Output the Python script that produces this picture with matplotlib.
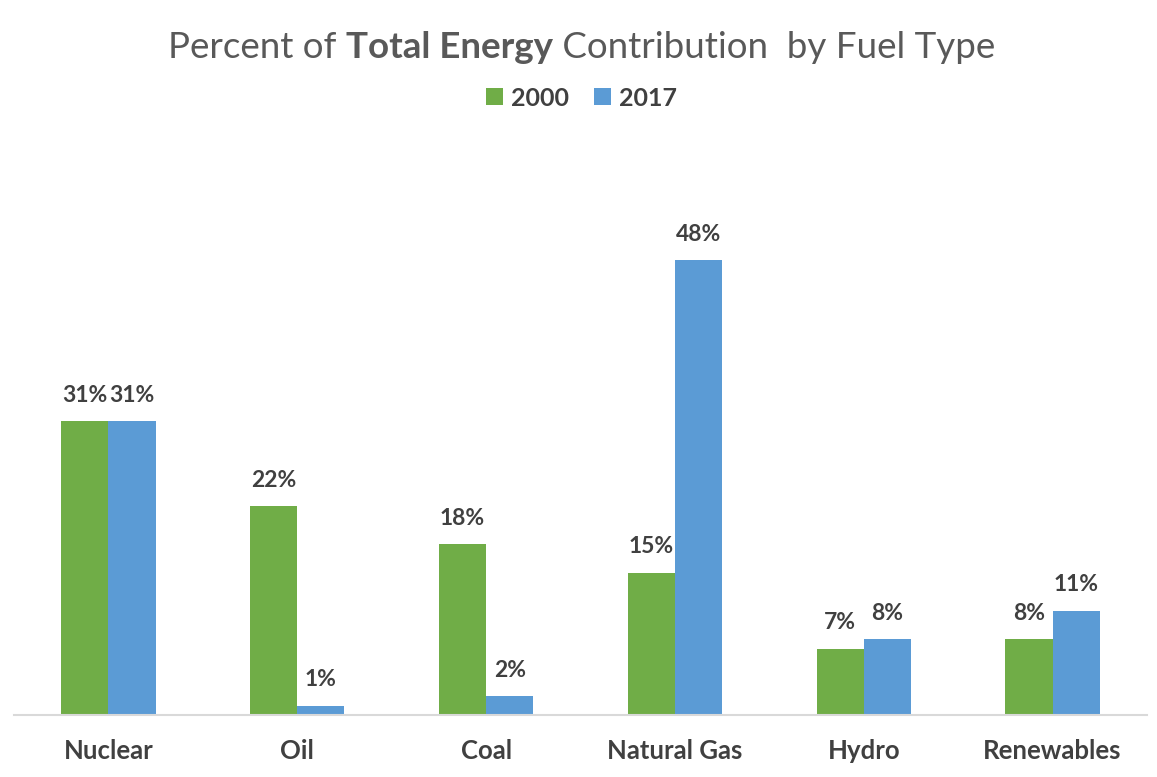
import matplotlib
matplotlib.use("Agg")
import matplotlib.pyplot as plt
import numpy as np
from matplotlib.offsetbox import TextArea, HPacker, AnchoredOffsetbox

categories = ["Nuclear", "Oil", "Coal", "Natural Gas", "Hydro", "Renewables"]
years = ["2000", "2017"]
values_2000 = [31, 22, 18, 15, 7, 8]
values_2017 = [31, 1, 2, 48, 8, 11]

green = "#70AD47"
blue = "#5B9BD5"
FONT = "Lato"

plt.rcParams["font.family"] = [FONT, "DejaVu Sans"]

fig = plt.figure(figsize=(11.57, 7.77), dpi=100)
ax = fig.add_axes([14 / 1157, 1 - 715 / 777, (1147 - 14) / 1157, (715 - 165) / 777])

x = np.arange(len(categories))
w = 0.25
b1 = ax.bar(x - w / 2, values_2000, w, color=green, label=years[0])
b2 = ax.bar(x + w / 2, values_2017, w, color=blue, label=years[1])

for bars, vals in ((b1, values_2000), (b2, values_2017)):
    for rect, v in zip(bars, vals):
        ax.annotate(f"{v}%", (rect.get_x() + rect.get_width() / 2, rect.get_height()),
                    xytext=(0, 11), textcoords="offset points", ha="center", va="bottom",
                    fontsize=16.5, fontweight="bold", color="#404040")

ax.set_xlim(-0.5, len(categories) - 0.5)
ax.set_ylim(0, 58)
ax.set_yticks([])
ax.set_xticks(x)
ax.set_xticklabels(categories, fontsize=18.5, fontweight="bold", color="#404040")
ax.tick_params(axis="x", length=0, pad=17)
for s in ["top", "right", "left"]:
    ax.spines[s].set_visible(False)
ax.spines["bottom"].set_color("#D9D9D9")
ax.spines["bottom"].set_linewidth(1.5)

# Title with mixed weights
tcol = "#595959"
tsize = 26.5
parts = [
    TextArea("Percent of ", textprops=dict(fontsize=tsize, color=tcol, family=FONT)),
    TextArea("Total Energy", textprops=dict(fontsize=tsize, color=tcol, family=FONT, fontweight="bold")),
    TextArea(" Contribution  by Fuel Type", textprops=dict(fontsize=tsize, color=tcol, family=FONT)),
]
box = HPacker(children=parts, align="baseline", pad=0, sep=0)
anch = AnchoredOffsetbox(loc="center", child=box, frameon=False,
                         bbox_to_anchor=(0.503, 1 - 47 / 777), bbox_transform=fig.transFigure, pad=0)
fig.add_artist(anch)

leg = fig.legend(handles=[b1, b2], labels=years, loc="center", bbox_to_anchor=(0.503, 1 - 98 / 777),
                 ncol=2, frameon=False, handlelength=0.65, handleheight=0.65, handletextpad=0.35,
                 columnspacing=1.0, prop=dict(size=18, weight="bold", family=FONT))
for t in leg.get_texts():
    t.set_color("#404040")

fig.savefig("out.png", dpi=100)
